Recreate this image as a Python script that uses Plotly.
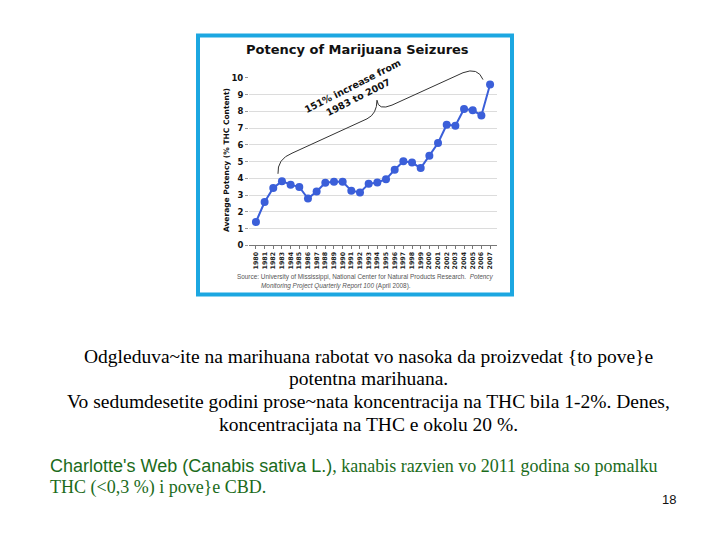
import plotly.graph_objects as go

years = list(range(1980, 2008))
potency = [1.40, 2.59, 3.43, 3.84, 3.63, 3.49, 2.80, 3.22, 3.74, 3.80, 3.80, 3.27, 3.16, 3.68,
           3.76, 3.96, 4.52, 5.03, 4.95, 4.62, 5.36, 6.12, 7.21, 7.15, 8.15, 8.07, 7.76, 9.61]
year_labels = [str(y) for y in years]
y_ticks = list(range(0, 11))

W, H = 720, 540
def px(x):
    return x / W
def py(y):
    return 1 - y / H

BLUE = "#3B5FD9"
fig = go.Figure()
fig.add_trace(go.Scatter(
    x=years, y=potency, mode="lines+markers",
    line=dict(color=BLUE, width=2),
    marker=dict(color=BLUE, size=8),
    showlegend=False, hoverinfo="skip"))

fig.update_layout(
    width=W, height=H,
    margin=dict(l=0, r=0, t=0, b=0),
    paper_bgcolor="white", plot_bgcolor="white",
    xaxis=dict(domain=[px(249), px(497)], range=[1979.2, 2007.8],
               tickvals=years, ticktext=year_labels, tickangle=-90,
               tickfont=dict(family="DejaVu Sans", size=6.3, color="#222", weight=700),
               showgrid=False, showline=True, linecolor="#777", linewidth=1,
               ticks="outside", ticklen=3, tickcolor="#777", zeroline=False),
    yaxis=dict(domain=[py(245), py(74)], range=[0, 10.02],
               tickvals=y_ticks,
               tickfont=dict(family="DejaVu Sans", size=8.5, color="#111", weight=700),
               showgrid=True, gridcolor="#dcdcdc", gridwidth=1,
               showline=False, ticks="outside", ticklen=3, tickcolor="#999",
               zeroline=False),
)

shapes = []
shapes.append(dict(type="rect", xref="paper", yref="paper",
                   x0=px(198), x1=px(512), y0=py(295), y1=py(31),
                   line=dict(color="#1CA7E1", width=4), layer="below"))

def path(cmds):
    out = []
    for c in cmds:
        if isinstance(c, str):
            out.append(c)
        else:
            out.append("%.5f,%.5f" % (px(c[0]), py(c[1])))
    return " ".join(out)

brace = path(["M", (278, 172), "Q", (277, 157), (292, 151), "L", (367, 116),
              "Q", (377, 111), (377, 97), "Q", (378, 108), (392, 102),
              "L", (463, 69), "Q", (478, 63), (483, 76)])
shapes.append(dict(type="path", xref="paper", yref="paper", path=brace,
                   line=dict(color="#333", width=1)))
fig.update_layout(shapes=shapes)

ann = []
ann.append(dict(xref="paper", yref="paper", x=px(357), y=py(45),
                text="<b>Potency of Marijuana Seizures</b>", showarrow=False,
                font=dict(family="DejaVu Sans", size=13, color="#111"),
                xanchor="center", yanchor="middle"))
ann.append(dict(xref="paper", yref="paper", x=px(226), y=py(158),
                text="<b>Average Potency (% THC Content)</b>", showarrow=False,
                textangle=-90,
                font=dict(family="DejaVu Sans", size=7.5, color="#111"),
                xanchor="center", yanchor="middle"))
ann.append(dict(xref="paper", yref="paper", x=px(355), y=py(88),
                text="<b>151% increase from<br>1983 to 2007</b>", showarrow=False,
                textangle=-27,
                font=dict(family="DejaVu Sans", size=9.5, color="#111"),
                xanchor="center", yanchor="middle"))
ann.append(dict(xref="paper", yref="paper", x=px(236), y=py(277),
                text="Source: University of Mississippi, National Center for Natural Products Research.  <i>Potency</i>",
                showarrow=False, font=dict(family="Liberation Sans", size=6.4, color="#555"),
                xanchor="left", yanchor="middle", borderpad=0))
ann.append(dict(xref="paper", yref="paper", x=px(260), y=py(286),
                text="<i>Monitoring Project Quarterly Report 100</i> (April 2008).",
                showarrow=False, font=dict(family="Liberation Sans", size=6.4, color="#555"),
                xanchor="left", yanchor="middle", borderpad=0))

serif = dict(family="Liberation Serif", size=19.5, color="black")
lines = [
    ("Odgleduva~ite na marihuana rabotat vo nasoka da proizvedat {to pove}e", 358),
    ("potentna marihuana.", 381),
    ("Vo sedumdesetite godini prose~nata koncentracija na THC bila 1-2%. Denes,", 404),
    ("koncentracijata na THC e okolu 20 %.", 427),
]
for t, yy in lines:
    ann.append(dict(xref="paper", yref="paper", x=px(369), y=py(yy), text=t,
                    showarrow=False, font=serif, xanchor="center", yanchor="middle",
                    borderpad=0))

GREEN = "#1B6B1B"
ann.append(dict(xref="paper", yref="paper", x=px(49), y=py(470),
                text="<span style='font-family:Liberation Sans'>Charlotte's Web (Canabis sativa L.)</span>, kanabis razvien vo 2011 godina so pomalku",
                showarrow=False, font=dict(family="Liberation Serif", size=18, color=GREEN),
                xanchor="left", yanchor="middle", borderpad=0))
ann.append(dict(xref="paper", yref="paper", x=px(49), y=py(492),
                text="THC (<0,3 %) i pove}e CBD.",
                showarrow=False, font=dict(family="Liberation Serif", size=18, color=GREEN),
                xanchor="left", yanchor="middle", borderpad=0))
ann.append(dict(xref="paper", yref="paper", x=px(669), y=py(504), text="18",
                showarrow=False, font=dict(family="Liberation Sans", size=13, color="#111"),
                xanchor="center", yanchor="middle"))
fig.update_layout(annotations=ann)

fig.write_html("out.html", config={"displayModeBar": False},
               post_script="document.body.style.margin='0px';document.body.style.overflow='hidden';")
